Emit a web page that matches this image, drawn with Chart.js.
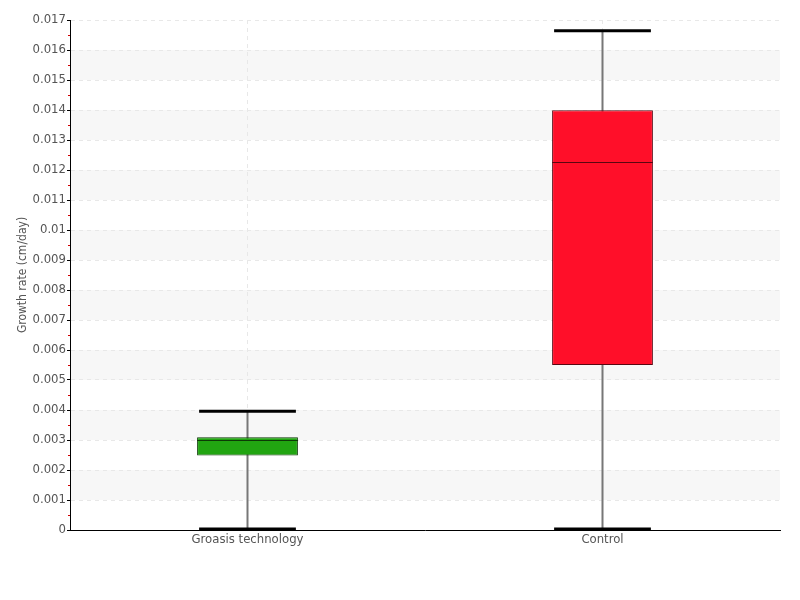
<!DOCTYPE html>
<html>
<head>
<meta charset="utf-8">
<script src="https://cdn.jsdelivr.net/npm/chart.js@4/dist/chart.umd.min.js"></script>
<style>
  html, body { margin: 0; padding: 0; background: #fff; }
  #wrap { width: 800px; height: 600px; }
</style>
</head>
<body>
<div id="wrap"><canvas id="grafica"></canvas></div>
<script>
// --- datos ---
const categorias = ['Groasis technology', 'Control'];
const minimos   = [0.00003, 0.00003];
const cuartil1  = [0.00248, 0.0055];
const medianas  = [0.0030, 0.01228];
const cuartil3  = [0.00309, 0.01399];
const maximos   = [0.00396, 0.01664];
const coloresCaja = ['#21a511', '#ff0f29'];
const bordesCaja  = ['#0c3a06', '#5a0610'];
const yMax = 0.017, yPaso = 0.001;

const FUENTE = "'Liberation Sans Narrow', 'DejaVu Sans Condensed', sans-serif";

// bandas grises alternas + ticks menores rojos
const pluginFondo = {
  id: 'fondo',
  beforeDraw(chart) {
    const { ctx, chartArea: a, scales: { y } } = chart;
    ctx.save();
    ctx.fillStyle = '#f7f7f7';
    for (let v = yPaso; v < yMax; v += 2 * yPaso) {
      const t = y.getPixelForValue(v + yPaso), b = y.getPixelForValue(v);
      ctx.fillRect(a.left, t, a.right - a.left, b - t);
    }
    ctx.restore();
  },
  afterDraw(chart) {
    const { ctx, chartArea: a, scales: { y } } = chart;
    ctx.save();
    ctx.strokeStyle = '#d00000'; ctx.lineWidth = 1;
    for (let v = yPaso / 2; v < yMax; v += yPaso) {
      const py = Math.round(y.getPixelForValue(v)) + 0.5;
      ctx.beginPath(); ctx.moveTo(a.left - 2, py); ctx.lineTo(a.left, py); ctx.stroke();
    }
    ctx.restore();
  }
};

// bigotes, topes y medianas
const pluginBigotes = {
  id: 'bigotes',
  beforeDatasetsDraw(chart) {
    const { ctx, scales: { y } } = chart;
    const meta = chart.getDatasetMeta(0);
    ctx.save();
    ctx.strokeStyle = '#777'; ctx.lineWidth = 2;
    meta.data.forEach((barra, i) => {
      ctx.beginPath();
      ctx.moveTo(barra.x, y.getPixelForValue(minimos[i]));
      ctx.lineTo(barra.x, y.getPixelForValue(maximos[i]));
      ctx.stroke();
    });
    ctx.restore();
  },
  afterDatasetsDraw(chart) {
    const { ctx, scales: { y } } = chart;
    const meta = chart.getDatasetMeta(0);
    ctx.save();
    meta.data.forEach((barra, i) => {
      const medio = barra.width * 0.48;
      ctx.strokeStyle = '#000'; ctx.lineWidth = 3;
      [minimos[i], maximos[i]].forEach(v => {
        const py = y.getPixelForValue(v);
        ctx.beginPath(); ctx.moveTo(barra.x - medio, py); ctx.lineTo(barra.x + medio, py); ctx.stroke();
      });
      ctx.strokeStyle = bordesCaja[i]; ctx.lineWidth = 1;
      const pm = Math.round(y.getPixelForValue(medianas[i])) + 0.5;
      ctx.beginPath(); ctx.moveTo(barra.x - barra.width / 2, pm); ctx.lineTo(barra.x + barra.width / 2, pm); ctx.stroke();
    });
    ctx.restore();
  }
};

new Chart(document.getElementById('grafica'), {
  type: 'bar',
  data: {
    labels: categorias,
    datasets: [{
      data: cuartil1.map((q, i) => [q, cuartil3[i]]),
      backgroundColor: coloresCaja,
      borderColor: bordesCaja,
      borderWidth: 1,
      borderSkipped: false,
      categoryPercentage: 1,
      barPercentage: 0.284
    }]
  },
  options: {
    responsive: true,
    maintainAspectRatio: false,
    animation: false,
    layout: { padding: { top: 20, right: 20, left: 0, bottom: 0 } },
    plugins: { legend: { display: false }, tooltip: { enabled: false } },
    scales: {
      x: {
        grid: { display: true, offset: false, color: '#e8e8e8', drawTicks: false },
        border: { display: true, color: '#000', width: 1, dash: [4, 4] },
        ticks: { color: '#555', font: { family: FUENTE, size: 13 }, padding: 2 },
        afterFit(s) { s.height = 70; }
      },
      y: {
        min: 0, max: yMax,
        grid: { color: '#e8e8e8', tickColor: '#000', tickLength: 3, drawTicks: true },
        border: { display: true, color: '#000', width: 1, dash: [4, 4] },
        ticks: {
          stepSize: yPaso, color: '#555', padding: 1,
          font: { family: FUENTE, size: 13 },
          callback: v => String(parseFloat(v.toFixed(3)))
        },
        title: { display: true, text: 'Growth rate (cm/day)', color: '#555', font: { family: FUENTE, size: 12 }, padding: { top: 16, bottom: 0 } },
        afterFit(s) { s.width = 70; }
      }
    }
  },
  plugins: [pluginFondo, pluginBigotes]
});
</script>
</body>
</html>
